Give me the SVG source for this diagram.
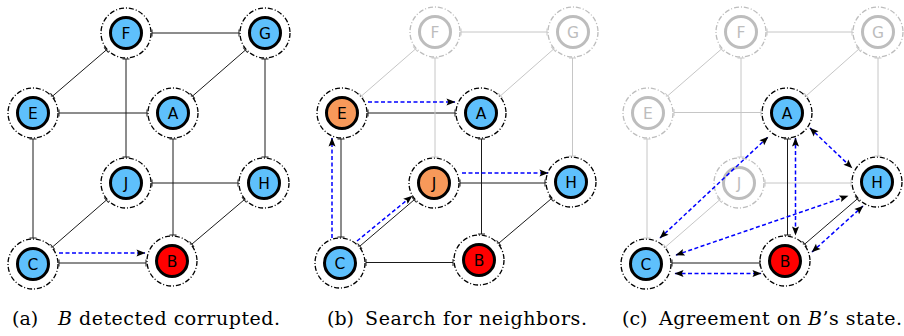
<svg xmlns="http://www.w3.org/2000/svg" width="904" height="336" viewBox="0 0 904 336">
<style>
.ring{fill:none;stroke:#000;stroke-width:1.3;stroke-dasharray:5 2 1 2}
.ring.g{stroke:#bdbdbd}
.core{stroke:#000;stroke-width:3}
.blue{fill:#5ec0fc}.orange{fill:#f7995a}.red{fill:#ff0000}
.core.g{fill:#fff;stroke:#bdbdbd}
.lbl{font-family:"DejaVu Sans",sans-serif;font-size:15.5px;text-anchor:middle;fill:#000}
.lbl.g{fill:#bdbdbd}
.e{stroke:#1a1a1a;stroke-width:1;fill:none;marker-start:url(#tk);marker-end:url(#tk)}
.e.g{stroke:#c6c6c6;marker-start:url(#tkg);marker-end:url(#tkg)}
.m{stroke:#0000ff;stroke-width:1.5;stroke-dasharray:4 2.5;fill:none;marker-end:url(#ah)}
.m.d{marker-start:url(#ah)}
.cap{font-family:"DejaVu Serif","Liberation Serif",serif;font-size:19px;fill:#000}
</style>
<defs>
<marker id="tk" markerUnits="userSpaceOnUse" viewBox="-5 -5 10 10" markerWidth="10" markerHeight="10" refX="0" refY="0" orient="auto"><path d="M0,-3.5V3.5" stroke="#1a1a1a" stroke-width="1"/></marker>
<marker id="tkg" markerUnits="userSpaceOnUse" viewBox="-5 -5 10 10" markerWidth="10" markerHeight="10" refX="0" refY="0" orient="auto"><path d="M0,-3.5V3.5" stroke="#c6c6c6" stroke-width="1"/></marker>
<marker id="ah" markerUnits="userSpaceOnUse" viewBox="-10 -5 12 10" markerWidth="12" markerHeight="10" refX="0" refY="0" orient="auto-start-reverse"><path d="M0.5,0 L-8.5,-3.5 L-6.8,0 L-8.5,3.5Z" fill="#000"/></marker>
</defs>

<!-- Panel (a) nodes -->
<g id="a-E"><circle class="ring" cx="33" cy="113" r="25"/><circle class="core blue" cx="33" cy="113" r="15.5"/><text class="lbl" x="33" y="118.6">E</text></g>
<g id="a-F"><circle class="ring" cx="126" cy="33" r="25"/><circle class="core blue" cx="126" cy="33" r="15.5"/><text class="lbl" x="126" y="38.6">F</text></g>
<g id="a-G"><circle class="ring" cx="265" cy="33" r="25"/><circle class="core blue" cx="265" cy="33" r="15.5"/><text class="lbl" x="265" y="38.6">G</text></g>
<g id="a-A"><circle class="ring" cx="173" cy="113" r="25"/><circle class="core blue" cx="173" cy="113" r="15.5"/><text class="lbl" x="173" y="118.6">A</text></g>
<g id="a-J"><circle class="ring" cx="126" cy="183" r="25"/><circle class="core blue" cx="126" cy="183" r="15.5"/><text class="lbl" x="126" y="188.6">J</text></g>
<g id="a-H"><circle class="ring" cx="264" cy="183" r="25"/><circle class="core blue" cx="264" cy="183" r="15.5"/><text class="lbl" x="264" y="188.6">H</text></g>
<g id="a-C"><circle class="ring" cx="33" cy="264" r="25"/><circle class="core blue" cx="33" cy="264" r="15.5"/><text class="lbl" x="33" y="269.6">C</text></g>
<g id="a-B"><circle class="ring" cx="172" cy="261" r="25"/><circle class="core red" cx="172" cy="261" r="15.5"/><text class="lbl" x="172" y="266.6">B</text></g>

<!-- Panel (b) nodes -->
<g id="b-E"><circle class="ring" cx="342" cy="113" r="25"/><circle class="core orange" cx="342" cy="113" r="15.5"/><text class="lbl" x="342" y="118.6">E</text></g>
<g id="b-F"><circle class="ring g" cx="435" cy="32" r="25"/><circle class="core g" cx="435" cy="32" r="15.5"/><text class="lbl g" x="435" y="37.6">F</text></g>
<g id="b-G"><circle class="ring g" cx="573" cy="32" r="25"/><circle class="core g" cx="573" cy="32" r="15.5"/><text class="lbl g" x="573" y="37.6">G</text></g>
<g id="b-A"><circle class="ring" cx="481" cy="113" r="25"/><circle class="core blue" cx="481" cy="113" r="15.5"/><text class="lbl" x="481" y="118.6">A</text></g>
<g id="b-J"><circle class="ring" cx="434" cy="183" r="25"/><circle class="core orange" cx="434" cy="183" r="15.5"/><text class="lbl" x="434" y="188.6">J</text></g>
<g id="b-H"><circle class="ring" cx="571" cy="182" r="25"/><circle class="core blue" cx="571" cy="182" r="15.5"/><text class="lbl" x="571" y="187.6">H</text></g>
<g id="b-C"><circle class="ring" cx="340" cy="263" r="25"/><circle class="core blue" cx="340" cy="263" r="15.5"/><text class="lbl" x="340" y="268.6">C</text></g>
<g id="b-B"><circle class="ring" cx="479" cy="260" r="25"/><circle class="core red" cx="479" cy="260" r="15.5"/><text class="lbl" x="479" y="265.6">B</text></g>

<!-- Panel (c) nodes -->
<g id="c-E"><circle class="ring g" cx="648" cy="113" r="25"/><circle class="core g" cx="648" cy="113" r="15.5"/><text class="lbl g" x="648" y="118.6">E</text></g>
<g id="c-F"><circle class="ring g" cx="741" cy="32" r="25"/><circle class="core g" cx="741" cy="32" r="15.5"/><text class="lbl g" x="741" y="37.6">F</text></g>
<g id="c-G"><circle class="ring g" cx="878" cy="32" r="25"/><circle class="core g" cx="878" cy="32" r="15.5"/><text class="lbl g" x="878" y="37.6">G</text></g>
<g id="c-A"><circle class="ring" cx="787" cy="113" r="25"/><circle class="core blue" cx="787" cy="113" r="15.5"/><text class="lbl" x="787" y="118.6">A</text></g>
<g id="c-J"><circle class="ring g" cx="739" cy="183" r="25"/><circle class="core g" cx="739" cy="183" r="15.5"/><text class="lbl g" x="739" y="188.6">J</text></g>
<g id="c-H"><circle class="ring" cx="877" cy="182" r="25"/><circle class="core blue" cx="877" cy="182" r="15.5"/><text class="lbl" x="877" y="187.6">H</text></g>
<g id="c-C"><circle class="ring" cx="646" cy="264" r="25"/><circle class="core blue" cx="646" cy="264" r="15.5"/><text class="lbl" x="646" y="269.6">C</text></g>
<g id="c-B"><circle class="ring" cx="785" cy="261" r="25"/><circle class="core red" cx="785" cy="261" r="15.5"/><text class="lbl" x="785" y="266.6">B</text></g>

<g id="connectors">
<!-- panel a edges -->
<line class="e" x1="152" y1="33" x2="239" y2="33"/>
<line class="e" x1="59" y1="113" x2="147" y2="113"/>
<line class="e" x1="152" y1="183" x2="238" y2="183"/>
<line class="e" x1="59" y1="263" x2="146" y2="263"/>
<line class="e" x1="126" y1="59" x2="126" y2="157"/>
<line class="e" x1="265" y1="59" x2="265" y2="157"/>
<line class="e" x1="33" y1="139" x2="33" y2="238"/>
<line class="e" x1="173" y1="139" x2="173" y2="235"/>
<line class="e" x1="106.3" y1="50" x2="52.7" y2="96"/>
<line class="e" x1="245.4" y1="50.1" x2="192.6" y2="96"/>
<line class="e" x1="106.4" y1="200.1" x2="52.6" y2="246.9"/>
<line class="e" x1="244.2" y1="199.8" x2="191.8" y2="244.2"/>
<line class="m" x1="59" y1="253" x2="145" y2="253"/>

<!-- panel b edges -->
<line class="e g" x1="461" y1="32" x2="547" y2="32"/>
<line class="e" x1="368" y1="113" x2="455" y2="113"/>
<line class="e" x1="460" y1="183" x2="545" y2="183"/>
<line class="e" x1="366" y1="262.5" x2="453" y2="262.5"/>
<line class="e g" x1="435" y1="58" x2="435" y2="157"/>
<line class="e g" x1="572.5" y1="58" x2="572.5" y2="156"/>
<line class="e" x1="341" y1="139" x2="341" y2="237"/>
<line class="e" x1="481.5" y1="139" x2="481.5" y2="234"/>
<line class="e g" x1="415.4" y1="49.1" x2="361.6" y2="95.9"/>
<line class="e g" x1="553.5" y1="49.2" x2="500.5" y2="95.8"/>
<line class="e" x1="414.2" y1="199.8" x2="359.8" y2="246.2"/>
<line class="e" x1="551.2" y1="198.8" x2="498.8" y2="243.2"/>
<line class="m" x1="332" y1="238" x2="332" y2="138"/>
<line class="m" x1="368" y1="102" x2="455" y2="102"/>
<line class="m" x1="357" y1="241" x2="412" y2="196"/>
<line class="m" x1="462" y1="173" x2="548" y2="173"/>

<!-- panel c edges -->
<line class="e g" x1="767" y1="32" x2="852" y2="32"/>
<line class="e g" x1="674" y1="112.5" x2="761" y2="112.5"/>
<line class="e g" x1="765" y1="183" x2="851" y2="183"/>
<line class="e" x1="672" y1="263" x2="760" y2="263"/>
<line class="e g" x1="741" y1="58" x2="741" y2="157"/>
<line class="e g" x1="878" y1="58" x2="878" y2="156"/>
<line class="e g" x1="647" y1="139" x2="647" y2="238"/>
<line class="e" x1="787.5" y1="139" x2="787.5" y2="235"/>
<line class="e g" x1="721.4" y1="49.1" x2="667.6" y2="95.9"/>
<line class="e g" x1="858.6" y1="49.3" x2="806.4" y2="95.7"/>
<line class="e g" x1="719.4" y1="200.1" x2="665.6" y2="246.9"/>
<line class="e" x1="857.3" y1="198.9" x2="804.7" y2="244.1"/>
<line class="m d" x1="660" y1="238" x2="768" y2="137"/>
<line class="m d" x1="795.5" y1="138" x2="795.5" y2="235"/>
<line class="m d" x1="810" y1="128" x2="852" y2="168"/>
<line class="m d" x1="676" y1="255" x2="848" y2="196"/>
<line class="m d" x1="812" y1="252" x2="863" y2="206"/>
<line class="m d" x1="675" y1="273.5" x2="761" y2="273.5"/>
</g>

<!-- captions -->
<text class="cap" x="12" y="324.5">(a)</text>
<text class="cap" x="58" y="324.5" textLength="222"><tspan font-style="italic">B</tspan> detected corrupted.</text>
<text class="cap" x="327" y="324.5">(b)</text>
<text class="cap" x="365" y="324.5" textLength="222">Search for neighbors.</text>
<text class="cap" x="622" y="324.5">(c)</text>
<text class="cap" x="659" y="324.5" textLength="243">Agreement on <tspan font-style="italic">B</tspan>’s state.</text>
</svg>
